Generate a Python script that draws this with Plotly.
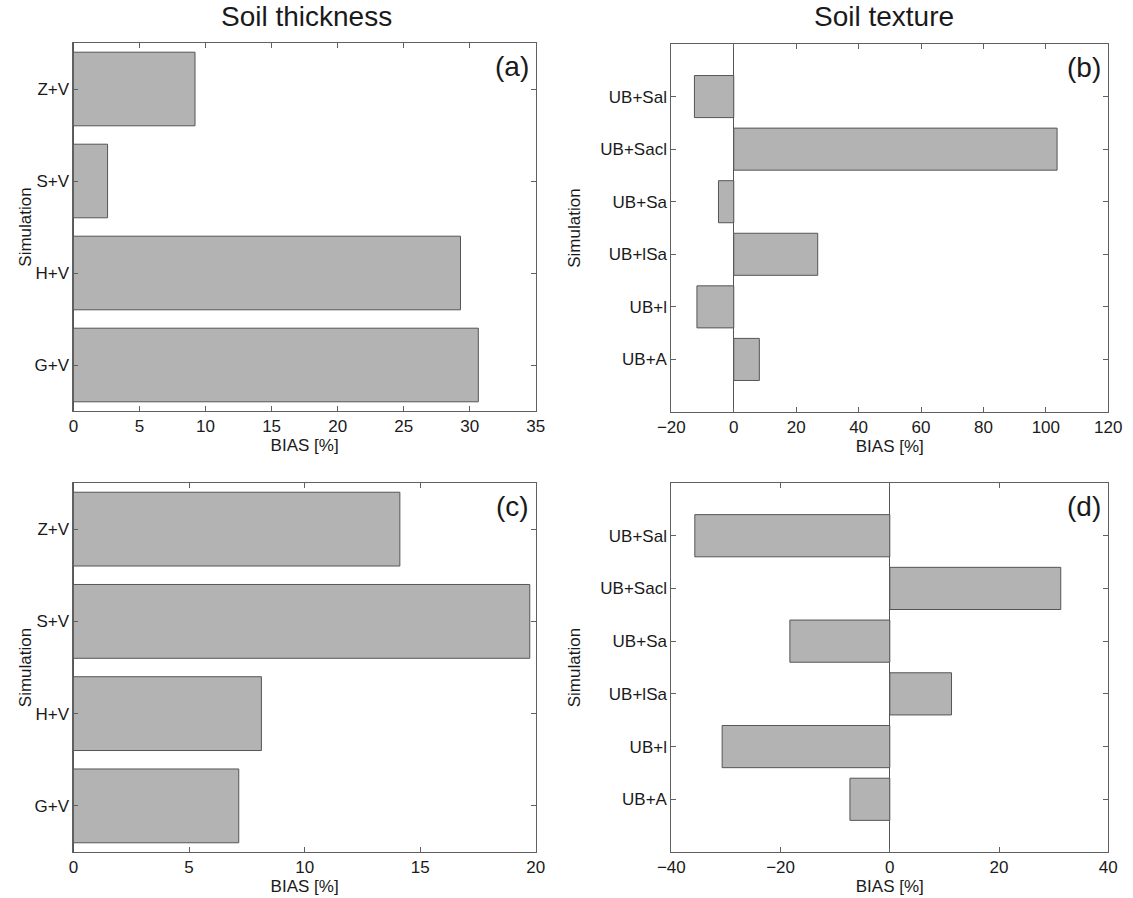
import plotly.graph_objects as go

# ---- data ----
thick_cats = ["G+V", "H+V", "S+V", "Z+V"]          # bottom -> top
thick_a = [30.65, 29.3, 2.58, 9.2]
thick_c = [7.15, 8.13, 19.74, 14.12]

tex_cats = ["UB+A", "UB+l", "UB+lSa", "UB+Sa", "UB+Sacl", "UB+Sal"]   # bottom -> top
tex_b = [8.2, -11.8, 26.9, -4.9, 103.6, -12.6]
tex_d = [-7.3, -30.7, 11.3, -18.3, 31.3, -35.7]

thick_ticks = [0, 5, 10, 15, 20, 25, 30, 35]
tex_b_ticks = [-20, 0, 20, 40, 60, 80, 100, 120]
thick_c_ticks = [0, 5, 10, 15, 20]
tex_d_ticks = [-40, -20, 0, 20, 40]

W, H = 1133, 898
FONT = "Liberation Sans, Arial, sans-serif"
BAR = "#b3b3b3"
EDGE = "#555555"
AX = "#606060"
TF = 17

def px_x(p):
    return p / W

def px_y(p):
    return 1 - p / H

fig = go.Figure()

panels = [
    ("x", "y", thick_cats, thick_a, [0, 35], thick_ticks, (61, 535), (43, 411), "(a)"),
    ("x2", "y2", tex_cats, tex_b, [-20, 120], tex_b_ticks, (674, 1122), (44, 412), "(b)"),
    ("x3", "y3", thick_cats, thick_c, [0, 20], thick_c_ticks, (61, 535), (483, 852), "(c)"),
    ("x4", "y4", tex_cats, tex_d, [-40, 40], tex_d_ticks, (674, 1122), (483, 852), "(d)"),
]

layout = dict(
    width=W, height=H,
    margin=dict(l=0, r=0, t=0, b=0),
    paper_bgcolor="white", plot_bgcolor="white",
    showlegend=False,
    font=dict(family=FONT, size=TF, color="#1a1a1a"),
)

annotations = []
for i, (xa, ya, cats, vals, xr, xt, xd, yd, lab) in enumerate(panels):
    fig.add_trace(go.Bar(
        x=vals, y=cats, orientation="h", xaxis=xa, yaxis=ya,
        marker=dict(color=BAR, line=dict(color=EDGE, width=1)),
        width=0.8, hoverinfo="x+y",
    ))
    n = len(cats)
    sfx = "" if i == 0 else str(i + 1)
    yr = [-0.5, n - 0.5] if n == 4 else [-1, n]
    layout["xaxis" + sfx] = dict(
        domain=[px_x(xd[0]), px_x(xd[1])], anchor=ya, range=xr,
        tickmode="array", tickvals=xt,
        ticktext=[("\u2212" + str(abs(t))) if t < 0 else str(t) for t in xt],
        ticks="inside", ticklen=5, tickcolor=AX, mirror="ticks",
        showline=True, linecolor=AX, linewidth=1, showgrid=False,
        zeroline=True, zerolinecolor=EDGE, zerolinewidth=1,
        tickfont=dict(size=TF),
        title=dict(text="BIAS [%]", font=dict(size=TF), standoff=0),
    )
    layout["yaxis" + sfx] = dict(
        domain=[px_y(yd[1]), px_y(yd[0])], anchor=xa,
        type="category", categoryorder="array", categoryarray=cats, range=yr,
        ticks="inside", ticklen=5, tickcolor=AX, mirror="ticks",
        showline=True, linecolor=AX, linewidth=1, showgrid=False,
        tickfont=dict(size=TF), zeroline=False,
    )
    annotations.append(dict(
        text=lab, x=px_x(xd[1] - 5), y=px_y(yd[0] + 6), xref="paper", yref="paper",
        xanchor="right", yanchor="top", showarrow=False, font=dict(size=28),
    ))
    annotations.append(dict(
        text="Simulation", textangle=-90, x=px_x(12 if n == 4 else xd[0] - 99),
        y=px_y((yd[0] + yd[1]) / 2), xref="paper", yref="paper",
        xanchor="center", yanchor="middle", showarrow=False, font=dict(size=TF),
    ))

annotations.append(dict(text="Soil thickness", x=px_x(300), y=px_y(17), xref="paper", yref="paper",
                        xanchor="center", yanchor="middle", showarrow=False, font=dict(size=28)))
annotations.append(dict(text="Soil texture", x=px_x(892), y=px_y(17), xref="paper", yref="paper",
                        xanchor="center", yanchor="middle", showarrow=False, font=dict(size=28)))
layout["annotations"] = annotations

fig.update_layout(**layout)
fig.write_html("out.html")
